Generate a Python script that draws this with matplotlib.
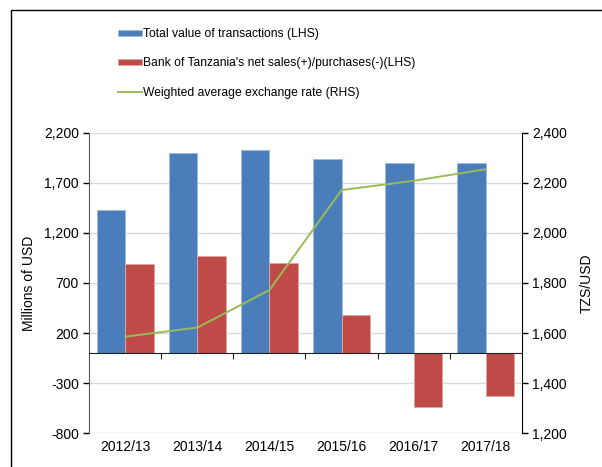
import matplotlib.pyplot as plt
from matplotlib.patches import Rectangle
from matplotlib.transforms import blended_transform_factory

plt.rcParams['font.family'] = ['Liberation Sans', 'DejaVu Sans']

years = ['2012/13', '2013/14', '2014/15', '2015/16', '2016/17', '2017/18']
total_value = [1424, 1997, 2027, 1937, 1897, 1897]
bot_net_sales = [894, 974, 904, 377, -540, -426]
exchange_rate = [1586, 1622, 1772, 2171, 2208, 2254]

left_ticks = [-800, -300, 200, 700, 1200, 1700, 2200]
right_ticks = [1200, 1400, 1600, 1800, 2000, 2200, 2400]

W, H = 602, 467
fig = plt.figure(figsize=(W / 100, H / 100), dpi=100)
# outer frame (only left/top edges visible in the source)
fig.patches.append(Rectangle((11 / W, -0.05), 1.2, 1 - 10 / H + 0.05,
                             transform=fig.transFigure, fill=False,
                             edgecolor='black', linewidth=1.0))

l, r, t, b = 89.3, 521.7, 132.7, 433.3
ax = fig.add_axes([l / W, 1 - b / H, (r - l) / W, (b - t) / H])
ax2 = ax.twinx()

x = list(range(len(years)))
w = 0.4
ax.bar([i - w / 2 for i in x], total_value, w, color='#4A7EBB',
       edgecolor='#9fbbe0', linewidth=0.7, label='Total value of transactions (LHS)', zorder=2)
ax.bar([i + w / 2 for i in x], bot_net_sales, w, color='#BE4B48',
       edgecolor='#e0a3a1', linewidth=0.7,
       label="Bank of Tanzania's net sales(+)/purchases(-)(LHS)", zorder=2)
ln, = ax2.plot(x, exchange_rate, color='#9BBB59', linewidth=1.4,
               label='Weighted average exchange rate (RHS)')

ax.set_xlim(-0.5, len(years) - 0.5)
ax.set_ylim(-800, 2200)
ax.set_yticks(left_ticks)
ax.set_yticklabels([f'{v:,}' for v in left_ticks])
ax.yaxis.grid(True, color='#d9d9d9', linewidth=1.0)
ax.set_axisbelow(True)
ax.set_ylabel('Millions of USD', fontsize=10, labelpad=6)

ax2.set_ylim(1200, 2400)
ax2.set_yticks(right_ticks)
ax2.set_yticklabels([f'{v:,}' for v in right_ticks])
ax2.set_ylabel('TZS/USD', fontsize=10, labelpad=9)

for a in (ax, ax2):
    a.spines['top'].set_visible(False)
    a.tick_params(axis='y', labelsize=10, length=4, width=1)
ax.spines['right'].set_visible(False)
ax.spines['left'].set_color('#555555')
ax.spines['bottom'].set_position(('data', 0))
ax.spines['bottom'].set_color('#222222')
ax2.spines['left'].set_visible(False)
ax2.spines['bottom'].set_visible(False)
ax2.spines['right'].set_color('black')

# category boundary ticks on the zero line, labels at the bottom
ax.set_xticks([i + 0.5 for i in x[:-1]])
ax.set_xticklabels([])
ax.tick_params(axis='x', length=4, direction='out', color='#222222')
trans = blended_transform_factory(ax.transData, ax.transAxes)
for i, yr in zip(x, years):
    ax.text(i, -0.045, yr, transform=trans, ha='center', va='center', fontsize=10)

handles = ax.get_legend_handles_labels()[0] + [ln]
fig.legend(handles, [h.get_label() for h in handles], loc='upper left',
           bbox_to_anchor=(107 / W, 1 - 17 / H), frameon=False, fontsize=8.7,
           handlelength=2.0, handleheight=0.4, handletextpad=0.1, labelspacing=1.45)

fig.savefig('out.png', dpi=100)
